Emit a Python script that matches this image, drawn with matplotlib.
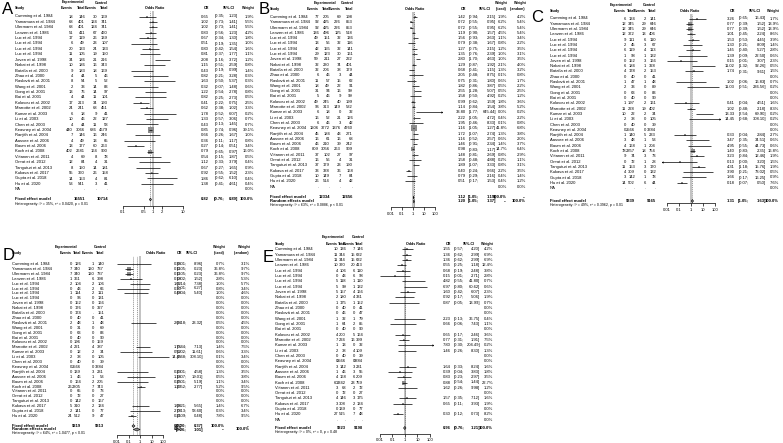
import matplotlib.pyplot as plt
from matplotlib.ticker import NullLocator
from matplotlib.transforms import blended_transform_factory

FIG_W, FIG_H = 783, 443
TXT = 3.0
TXT_HEAD = 2.6
plt.rcParams["font.family"] = ["Liberation Sans", "DejaVu Sans"]

STUDIES = [
    "Cumming et al. 1984", "Yamamura et al. 1984", "Ulermann et al. 1984", "Lenzen et al. 1986",
    "Luc et al. 1994", "Luc et al. 1994", "Luc et al. 1994", "Luc et al. 1994",
    "Joven et al. 1998", "Nakai et al. 1998", "Batalla et al. 2000", "Zhao et al. 2000",
    "Raslová et al. 2001", "Wang et al. 2001", "Gong et al. 2001", "Bai et al. 2001",
    "Kolovou et al. 2002", "Marrotte et al. 2002", "Kumar et al. 2003", "Li et al. 2003",
    "Chen et al. 2003", "Keavney et al. 2004", "Ranjith et al. 2004", "Aasvee et al. 2006",
    "Baum et al. 2006", "Koch et al. 2008", "Viitanen et al. 2011", "Onrat et al. 2012",
    "Tanguturi et al. 2013", "Kukava et al. 2017", "Gupta et al. 2018", "Hu et al. 2020",
]
TICKS_A = [0.1, 0.5, 1, 2, 10]
TICK_LABELS_A = ["0.1", "0.5", "1", "2", "10"]
TICKS_WIDE = [0.01, 0.1, 1, 10, 100]
TICK_LABELS_WIDE = ["0.01", "0.1", "1", "10", "100"]

# ---- panel A
A_EXP_EV = [18, 68, 68, 51, 17, 6, 20, 11, 34, 10, 9, 4, 8, 2, 13, 4, 17, 24, 6, 10, 4, 440, 7, 4, 13, 402, 4, 12, 8, 55, 14, 53]
A_EXP_N = [146, 401, 401, 411, 119, 49, 133, 105, 186, 186, 183, 44, 54, 33, 76, 44, 213, 241, 18, 46, 44, 3066, 146, 49, 177, 2681, 69, 84, 150, 360, 153, 541]
A_CTL_EV = [30, 124, 124, 67, 26, 23, 24, 19, 21, 16, 18, 5, 5, 14, 14, 11, 34, 68, 9, 22, 11, 686, 16, 13, 60, 164, 8, 4, 14, 26, 4, 3]
A_CTL_N = [169, 741, 741, 460, 139, 107, 133, 150, 216, 343, 169, 46, 52, 83, 97, 101, 193, 451, 41, 127, 58, 4679, 246, 65, 263, 900, 78, 31, 181, 158, 81, 41]
A_OR = [0.65, 1.02, 1.02, 0.83, 0.67, 0.51, 0.80, 0.81, 2.08, 1.15, 0.43, 0.82, 1.63, 0.32, 1.22, 0.82, 0.41, 0.62, 1.78, 1.33, 0.43, 0.85, 0.66, 0.36, 0.27, 0.79, 0.54, 1.12, 0.67, 0.92, 1.86, 1.38]
A_LO = [0.35, 0.73, 0.73, 0.56, 0.34, 0.19, 0.42, 0.37, 1.16, 0.51, 0.19, 0.21, 0.50, 0.07, 0.54, 0.25, 0.22, 0.38, 0.52, 0.57, 0.13, 0.74, 0.26, 0.11, 0.14, 0.65, 0.15, 0.33, 0.27, 0.55, 0.62, 0.41]
A_HI = [1.23, 1.41, 1.41, 1.23, 1.30, 1.35, 1.54, 1.77, 3.72, 2.59, 0.99, 3.28, 5.37, 1.48, 2.78, 2.73, 0.75, 1.02, 6.07, 3.06, 1.45, 0.96, 1.67, 1.17, 0.51, 0.97, 1.87, 3.79, 1.65, 1.52, 6.10, 4.61]
A_W = [1.9, 5.5, 5.5, 4.2, 1.8, 1.0, 1.6, 1.1, 1.2, 0.8, 1.4, 0.3, 0.3, 0.6, 0.8, 0.5, 2.5, 3.3, 0.2, 0.7, 0.7, 39.1, 1.0, 0.8, 3.4, 16.0, 0.5, 0.4, 0.9, 2.3, 0.4, 0.4]
A_TOTALS = [16551, 10714]
A_FIXED = [0.82, 0.76, 0.89]
A_HET = "Heterogeneity: I² = 35%, τ² = 0.0420, p = 0.01"

# ---- panel B
B_EXP_EV = [77, 92, 92, 136, 49, 13, 42, 29, 59, 32, 32, 6, 11, 18, 31, 5, 49, 96, 6, 16, 6, 1206, 45, 16, 46, 809, 37, 16, 37, 33, 10, 26]
B_EXP_N = [205, 425, 425, 496, 151, 56, 155, 123, 211, 230, 206, 46, 57, 49, 94, 46, 245, 313, 18, 52, 46, 3772, 184, 61, 210, 3056, 102, 56, 179, 338, 149, 514]
B_CTL_EV = [69, 226, 226, 125, 32, 32, 32, 30, 27, 74, 38, 3, 15, 22, 16, 9, 40, 149, 0, 21, 3, 1376, 43, 16, 39, 263, 27, 4, 23, 36, 7, 4]
B_CTL_N = [198, 853, 853, 518, 136, 116, 141, 161, 222, 401, 179, 44, 62, 91, 99, 99, 199, 532, 32, 126, 42, 4760, 271, 68, 242, 909, 97, 31, 190, 168, 84, 42]
B_OR = [1.42, 0.72, 0.72, 1.19, 1.56, 0.79, 1.27, 1.35, 2.80, 1.29, 0.68, 2.05, 0.75, 1.82, 2.55, 1.58, 0.99, 1.14, 33.80, 2.22, 1.95, 1.16, 1.72, 1.16, 1.46, 0.98, 1.48, 1.58, 1.89, 0.40, 0.79, 0.51]
B_LO = [0.94, 0.55, 0.55, 0.90, 0.93, 0.38, 0.75, 0.76, 1.70, 0.87, 0.41, 0.48, 0.31, 0.86, 1.28, 0.50, 0.62, 0.84, 1.77, 1.05, 0.46, 1.05, 1.07, 0.52, 0.91, 0.83, 0.81, 0.48, 1.07, 0.24, 0.29, 0.17]
B_HI = [2.15, 0.95, 0.95, 1.57, 2.63, 1.67, 2.15, 2.39, 4.63, 1.92, 1.15, 8.75, 1.80, 3.87, 5.07, 4.92, 1.59, 1.54, 645.44, 4.72, 8.33, 1.27, 2.74, 2.57, 2.34, 1.17, 2.69, 4.88, 3.33, 0.66, 2.16, 1.53]
B_WF = [1.9, 6.2, 6.2, 4.5, 1.1, 0.8, 1.2, 1.0, 1.0, 2.1, 1.3, 0.1, 0.6, 0.5, 0.5, 0.2, 1.8, 3.8, 0.0, 0.4, 0.1, 41.8, 1.3, 0.6, 1.4, 14.7, 0.8, 0.2, 0.8, 2.2, 0.4, 0.4]
B_WR = [4.2, 5.4, 5.4, 5.4, 3.4, 2.2, 3.5, 3.1, 3.5, 4.0, 3.2, 0.8, 1.7, 2.2, 2.5, 1.2, 3.6, 5.2, 0.2, 2.2, 0.8, 6.8, 3.8, 2.0, 3.7, 6.4, 2.9, 1.1, 3.1, 3.5, 1.4, 1.2]
B_TOTALS = [12334, 12656]
B_FIXED = [1.12, 1.05, 1.19]
B_RANDOM = [1.20, 1.05, 1.37]
B_HET = "Heterogeneity: I² = 63%, τ² = 0.0886, p < 0.01"

# ---- panel C
C_EXP_EV = [6, 12, 12, 12, 9, 2, 6, 1, 0, 6, 4, 0, 1, 2, 0, 0, 1, 11, 10, 2, 0, 0, 1, 3, 4, 78, 9, 0, 11, 4, 3, 14]
C_EXP_N = [134, 345, 345, 372, 111, 45, 119, 98, 152, 184, 178, 40, 47, 33, 63, 40, 197, 228, 22, 38, 40, 2566, 140, 48, 168, 2357, 74, 72, 153, 309, 142, 502]
C_CTL_EV = [2, 29, 29, 13, 6, 3, 4, 1, 3, 1, 2, 0, 1, 0, 0, 0, 2, 19, 2, 0, 0, 0, 5, 1, 1, 18, 3, 1, 3, 0, 1, 6]
C_CTL_N = [141, 646, 646, 406, 110, 67, 113, 132, 166, 328, 153, 41, 48, 89, 83, 90, 161, 402, 34, 105, 39, 3384, 233, 53, 204, 754, 73, 28, 170, 132, 78, 44]
C_OR = [3.26, 0.77, 0.77, 1.01, 1.53, 1.30, 1.45, 1.39, 0.15, 11.02, 1.74, None, 1.02, 11.03, None, None, 0.41, 1.02, 13.33, 14.45, None, None, 0.33, 3.47, 4.95, 1.40, 3.23, 0.13, 4.31, 3.90, 1.66, 0.18]
C_LO = [0.65, 0.39, 0.39, 0.45, 0.53, 0.21, 0.40, 0.09, 0.01, 1.32, 0.31, None, 0.06, 0.51, None, None, 0.04, 0.48, 2.54, 0.68, None, None, 0.04, 0.35, 0.55, 0.83, 0.84, 0.00, 1.18, 0.21, 0.17, 0.07]
C_HI = [16.43, 1.52, 1.52, 2.24, 4.45, 8.09, 5.27, 22.50, 3.07, 92.26, 9.61, None, 16.83, 236.56, None, None, 4.51, 2.18, 69.90, 308.10, None, None, 2.84, 34.51, 44.73, 2.35, 12.46, 3.20, 15.76, 73.02, 16.25, 0.50]
C_W = [1.7, 13.9, 13.9, 8.6, 3.9, 1.4, 2.8, 0.6, 2.3, 0.5, 1.5, 0.0, 0.7, 0.2, 0.0, 0.0, 1.6, 8.3, 0.2, 0.2, 0.0, 0.0, 2.7, 0.6, 0.6, 16.8, 1.9, 1.5, 1.9, 0.5, 0.9, 7.6]
C_TOTALS = [9339, 9165]
C_FIXED = [1.31, 1.05, 1.63]
C_HET = "Heterogeneity: I² = 49%, τ² = 0.3962, p = 0.01"

# ---- panel D
D_EXP_EV = [0, 7, 7, 1, 2, 0, 1, 0, 0, 0, 0, 0, 2, 0, 0, 0, 0, 4, 0, 2, 0, 0, 0, 1, 0, 26, 0, 0, 0, 5, 2, 24]
D_EXP_N = [126, 340, 340, 361, 104, 43, 114, 96, 152, 176, 174, 40, 48, 31, 63, 40, 196, 221, 12, 38, 40, 2566, 139, 46, 164, 2305, 65, 72, 142, 310, 141, 512]
D_CTL_EV = [1, 120, 120, 6, 2, 2, 2, 0, 0, 0, None, 0, 1, 0, 0, 0, 0, 4, 2, 0, 0, 0, 3, 1, 2, 7, 0, 0, 0, 2, 0, 9]
D_CTL_N = [140, 737, 737, 398, 106, 66, 111, 131, 166, 327, 151, 41, 48, 69, 83, 90, 159, 387, 34, 105, 39, 3384, 231, 53, 205, 743, 73, 27, 167, 134, 77, 47]
D_OR = [0.36, 0.11, 0.11, 0.18, 1.02, 0.30, 0.48, None, None, None, None, None, 2.04, None, None, None, None, 1.76, 0.52, 14.45, None, None, 0.23, 1.16, 0.25, 1.20, None, None, None, 1.08, 2.78, 0.21]
D_LO = [0.01, 0.05, 0.05, 0.02, 0.14, 0.01, 0.04, None, None, None, None, None, 0.18, None, None, None, None, 0.44, 0.02, 0.68, None, None, 0.01, 0.07, 0.01, 0.52, None, None, None, 0.21, 0.13, 0.09]
D_HI = [8.96, 0.23, 0.23, 1.52, 7.38, 6.27, 5.40, None, None, None, None, None, 23.32, None, None, None, None, 7.13, 11.61, 308.10, None, None, 4.58, 19.01, 5.19, 2.77, None, None, None, 5.65, 58.60, 0.48]
D_WF = [0.7, 36.8, 36.8, 2.8, 1.0, 0.8, 1.0, 0.0, 0.0, 0.0, 0.0, 0.0, 0.5, 0.0, 0.0, 0.0, 0.0, 1.4, 0.6, 0.1, 0.0, 0.0, 1.3, 0.5, 1.1, 5.2, 0.0, 0.0, 0.0, 1.4, 0.3, 7.8]
D_WR = [3.1, 9.7, 9.7, 5.3, 5.7, 3.4, 4.6, 0.0, 0.0, 0.0, 0.0, 0.0, 4.5, 0.0, 0.0, 0.0, 0.0, 7.5, 3.3, 3.4, 0.0, 0.0, 3.5, 3.8, 3.4, 9.5, 0.0, 0.0, 0.0, 6.7, 3.4, 9.5]
D_TOTALS = [9219, 9313]
D_FIXED = [0.27, 0.20, 0.37]
D_RANDOM = [0.52, 0.26, 1.01]
D_HET = "Heterogeneity: I² = 64%, τ² = 1.0477, p < 0.01"

# ---- panel E
E_EXP_EV = [10, 11, 11, 10, 4, 0, 5, 5, 5, 2, 1, 0, 0, 1, 1, 0, 4, 7, 1, 2, 0, 0, 3, 1, 4, 60, 3, 0, 4, 3, 0, 27]
E_EXP_N = [136, 344, 344, 370, 106, 43, 118, 99, 157, 180, 175, 40, 46, 32, 64, 40, 200, 224, 13, 38, 40, 2566, 142, 46, 168, 2342, 68, 72, 146, 308, 139, 515]
E_CTL_EV = [7, 15, 15, 20, 6, 6, 1, 1, 4, 4, 1, 0, 0, 1, 2, 0, 5, 16, 0, 4, 0, 0, 3, 3, 6, 23, 2, 0, 3, 2, 0, 7]
E_CTL_N = [146, 632, 632, 413, 110, 98, 110, 132, 166, 331, 152, 41, 47, 79, 85, 90, 164, 399, 32, 109, 39, 3384, 231, 55, 209, 759, 72, 27, 175, 134, 77, 48]
E_OR = [1.55, 1.36, 1.36, 0.55, 0.68, 0.15, 4.82, 6.97, 1.60, 0.92, 0.87, None, None, 2.23, 0.66, None, 0.65, 0.77, 7.80, 1.46, None, None, 1.64, 0.39, 0.83, 0.88, 1.62, None, 1.57, 0.65, None, 0.30]
E_LO = [0.57, 0.62, 0.62, 0.25, 0.19, 0.01, 0.55, 0.80, 0.42, 0.17, 0.05, None, None, 0.13, 0.06, None, 0.17, 0.31, 0.30, 0.26, None, None, 0.33, 0.04, 0.23, 0.54, 0.26, None, 0.35, 0.11, None, 0.12]
E_HI = [4.20, 2.99, 2.99, 1.18, 2.48, 2.71, 41.80, 60.62, 6.07, 5.06, 13.99, None, None, 36.75, 7.43, None, 2.46, 1.91, 204.49, 8.30, None, None, 8.24, 3.83, 2.97, 1.44, 9.98, None, 7.12, 3.93, None, 0.73]
E_W = [4.2, 6.9, 6.9, 12.4, 3.8, 2.8, 0.7, 0.6, 2.3, 1.9, 0.7, 0.0, 0.0, 0.4, 1.1, 0.0, 3.6, 7.5, 0.2, 1.3, 0.0, 0.0, 1.6, 1.8, 3.5, 22.7, 1.2, 0.0, 1.6, 1.9, 0.0, 8.2]
E_TOTALS = [9323, 9198]
E_FIXED = [0.96, 0.76, 1.21]
E_HET = "Heterogeneity: I² = 0%, τ² = 0, p = 0.48"


# Pixel layout of each panel (positions only, no data)
LAYOUT = {
    "A": dict(label=(2, 10), y_top=2.5, y_head=8, y0=16.5, dy=5.4, y_fixed=199.5, y_random=None,
              y_het=204.5, y_axis=205.5, x_name=15, x_cols=(73, 85, 97, 108), x_exp=73, x_ctl=101,
              x_one=153, ppd=30, x_left=116, x_right=190, x_hdr_or=155, x_or=209, x_ci=238, ci_gap=13,
              x_w=(254,), na_row=True),
    "B": dict(label=(259, 10), y_top=3, y_head=9, y0=17, dy=5.3, y_fixed=197.5, y_random=201.5,
              y_het=205.5, y_axis=207, x_name=270, x_cols=(319, 330, 341, 353), x_exp=325, x_ctl=347,
              x_one=413, ppd=11, x_left=386, x_right=442, x_hdr_or=415, x_or=466, x_ci=496, ci_gap=17,
              x_w=(507, 526), na_row=True),
    "C": dict(label=(531, 17), y_top=5, y_head=11, y0=18.5, dy=5.3, y_fixed=201, y_random=None,
              y_het=205.5, y_axis=203.5, x_name=550, x_cols=(626, 635, 646, 656), x_exp=621, x_ctl=649,
              x_one=691, ppd=12, x_left=662, x_right=720, x_hdr_or=690, x_or=735, x_ci=766, ci_gap=17,
              x_w=(779,), na_row=True),
    "D": dict(label=(3, 255), y_top=247, y_head=253, y0=264, dy=4.9, y_fixed=426, y_random=429.5,
              y_het=433, y_axis=435, x_name=12, x_cols=(72, 81, 94, 104), x_exp=66, x_ctl=100,
              x_one=140, ppd=11.5, x_left=114, x_right=172, x_hdr_or=156, x_or=182, x_ci=203, ci_gap=16,
              x_w=(225, 250), na_row=False),
    "E": dict(label=(263, 258), y_top=237.5, y_head=244, y0=249.5, dy=5.32, y_fixed=428, y_random=None,
              y_het=432, y_axis=433.5, x_name=275, x_cols=(338, 346, 355, 363), x_exp=333, x_ctl=358,
              x_one=405, ppd=12.5, x_left=376, x_right=433, x_hdr_or=416, x_or=451, x_ci=480, ci_gap=16,
              x_w=(493,), na_row=True),
}


def build_panels():
    return {
        "A": dict(counts=[A_EXP_EV, A_EXP_N, A_CTL_EV, A_CTL_N], est=[A_OR, A_LO, A_HI], weights=[A_W],
                  totals=A_TOTALS, fixed=A_FIXED, random=None, het=A_HET, ticks=(TICKS_A, TICK_LABELS_A)),
        "B": dict(counts=[B_EXP_EV, B_EXP_N, B_CTL_EV, B_CTL_N], est=[B_OR, B_LO, B_HI], weights=[B_WF, B_WR],
                  totals=B_TOTALS, fixed=B_FIXED, random=B_RANDOM, het=B_HET, ticks=(TICKS_WIDE, TICK_LABELS_WIDE)),
        "C": dict(counts=[C_EXP_EV, C_EXP_N, C_CTL_EV, C_CTL_N], est=[C_OR, C_LO, C_HI], weights=[C_W],
                  totals=C_TOTALS, fixed=C_FIXED, random=None, het=C_HET, ticks=(TICKS_WIDE, TICK_LABELS_WIDE)),
        "D": dict(counts=[D_EXP_EV, D_EXP_N, D_CTL_EV, D_CTL_N], est=[D_OR, D_LO, D_HI], weights=[D_WF, D_WR],
                  totals=D_TOTALS, fixed=D_FIXED, random=D_RANDOM, het=D_HET, ticks=(TICKS_WIDE, TICK_LABELS_WIDE)),
        "E": dict(counts=[E_EXP_EV, E_EXP_N, E_CTL_EV, E_CTL_N], est=[E_OR, E_LO, E_HI], weights=[E_W],
                  totals=E_TOTALS, fixed=E_FIXED, random=None, het=E_HET, ticks=(TICKS_WIDE, TICK_LABELS_WIDE)),
    }


def draw_panel(fig, key, data, lay):
    y_forest_top = lay["y_head"] + 3

    def row(y_px):
        return (y_px - lay["y0"]) / lay["dy"]

    ax = fig.add_axes([
        lay["x_left"] / FIG_W,
        1 - lay["y_axis"] / FIG_H,
        (lay["x_right"] - lay["x_left"]) / FIG_W,
        (lay["y_axis"] - y_forest_top) / FIG_H,
    ])
    ax.set_xscale("log")
    xmin = 10 ** ((lay["x_left"] - lay["x_one"]) / lay["ppd"])
    xmax = 10 ** ((lay["x_right"] - lay["x_one"]) / lay["ppd"])
    ax.set_xlim(xmin, xmax)
    ax.set_ylim(row(lay["y_axis"]), row(y_forest_top))
    ax.patch.set_visible(False)
    for side in ("top", "left", "right"):
        ax.spines[side].set_visible(False)
    ticks, tick_labels = data["ticks"]
    ax.spines["bottom"].set_bounds(ticks[0], ticks[-1])
    ax.spines["bottom"].set_linewidth(0.5)
    ax.set_xticks(ticks)
    ax.set_xticklabels(tick_labels)
    ax.xaxis.set_minor_locator(NullLocator())
    ax.tick_params(axis="x", length=2, width=0.5, labelsize=TXT, pad=1.5)
    ax.set_yticks([])

    tr = blended_transform_factory(fig.transFigure, ax.transData)

    def put(x_px, r, s, ha="right", bold=False, size=TXT):
        fig.text(x_px / FIG_W, r, s, transform=tr, ha=ha, va="center", fontsize=size,
                 fontweight="bold" if bold else "normal", zorder=5)

    def put_ci(r, lo, hi, bold=False):
        put(lay["x_ci"] - lay["ci_gap"], r, f"[{lo:.2f};", bold=bold)
        put(lay["x_ci"], r, f"{hi:.2f}]", bold=bold)

    # letter + headers
    lx, ly = lay["label"]
    fig.text(lx / FIG_W, 1 - ly / FIG_H, key, fontsize=12, ha="left", va="center", zorder=6)
    r_top, r_head = row(lay["y_top"]), row(lay["y_head"])
    put(lay["x_name"], r_head, "Study", ha="left", bold=True, size=TXT_HEAD)
    put(lay["x_exp"], r_top, "Experimental", ha="center", bold=True, size=TXT_HEAD)
    put(lay["x_ctl"], r_top, "Control", ha="center", bold=True, size=TXT_HEAD)
    for x, name in zip(lay["x_cols"], ["Events", "Total", "Events", "Total"]):
        put(x, r_head, name, bold=True, size=TXT_HEAD)
    put(lay["x_hdr_or"], r_head, "Odds Ratio", ha="center", bold=True, size=TXT_HEAD)
    put(lay["x_or"], r_head, "OR", bold=True, size=TXT_HEAD)
    put(lay["x_ci"] - lay["ci_gap"] / 2 - 3, r_head, "95%-CI", ha="center", bold=True, size=TXT_HEAD)
    if len(lay["x_w"]) == 1:
        put(lay["x_w"][0], r_head, "Weight", bold=True, size=TXT_HEAD)
    else:
        put(lay["x_w"][0], r_top, "Weight", bold=True, size=TXT_HEAD)
        put(lay["x_w"][0], r_head, "(fixed)", bold=True, size=TXT_HEAD)
        put(lay["x_w"][1], r_top, "Weight", bold=True, size=TXT_HEAD)
        put(lay["x_w"][1], r_head, "(random)", bold=True, size=TXT_HEAD)

    # reference lines
    ax.axvline(1, color="#bdbdbd", lw=1.3, zorder=0)
    ax.axvline(data["fixed"][0], color="#555555", lw=0.4, ls=(0, (2, 1.5)), zorder=1)
    if data["random"] is not None:
        ax.axvline(data["random"][0], color="#555555", lw=0.4, ls=(0, (2, 1.5)), zorder=1)

    ors, los, his = data["est"]
    box_w = data["weights"][0]
    for i, name in enumerate(STUDIES):
        put(lay["x_name"], i, name, ha="left")
        for x, col in zip(lay["x_cols"], data["counts"]):
            put(x, i, "." if col[i] is None else str(col[i]))
        for x, col in zip(lay["x_w"], data["weights"]):
            put(x, i, f"{col[i]:.1f}%")
        o = ors[i]
        if o is None:
            continue
        put(lay["x_or"], i, f"{o:.2f}")
        put_ci(i, los[i], his[i])
        a, b = max(los[i], xmin), min(his[i], xmax)
        ax.plot([a, b], [i, i], color="black", lw=0.5, zorder=3, solid_capstyle="butt")
        if los[i] < xmin:
            ax.plot([a], [i], marker="<", ms=1.6, color="black", mew=0, zorder=3)
        if his[i] > xmax:
            ax.plot([b], [i], marker=">", ms=1.6, color="black", mew=0, zorder=3)
        ax.scatter([o], [i], marker="s", s=max(box_w[i] * 0.35, 0.5), color="#8c8c8c",
                   linewidths=0, zorder=2)

    if lay["na_row"]:
        r_na = len(STUDIES)
        put(lay["x_name"], r_na, "NA", ha="left")
        for x in lay["x_cols"]:
            put(x, r_na, ".")
        for x in lay["x_w"]:
            put(x, r_na, "0.0%")

    def diamond(est, r):
        o, lo, hi = est
        h = 1.5 / lay["dy"]
        ax.fill([lo, o, hi, o], [r, r - h, r, r + h], facecolor="#8c8c8c", edgecolor="black",
                lw=0.4, zorder=4)

    r_fixed = row(lay["y_fixed"])
    put(lay["x_name"], r_fixed, "Fixed effect model", ha="left", bold=True)
    put(lay["x_cols"][1], r_fixed, str(data["totals"][0]), bold=True)
    put(lay["x_cols"][3], r_fixed, str(data["totals"][1]), bold=True)
    put(lay["x_or"], r_fixed, f"{data['fixed'][0]:.2f}", bold=True)
    put_ci(r_fixed, data["fixed"][1], data["fixed"][2], bold=True)
    put(lay["x_w"][0], r_fixed, "100.0%", bold=True)
    if len(lay["x_w"]) > 1:
        put(lay["x_w"][1], r_fixed, "--", bold=True)
    diamond(data["fixed"], r_fixed)

    if data["random"] is not None:
        r_rand = row(lay["y_random"])
        put(lay["x_name"], r_rand, "Random effects model", ha="left", bold=True)
        put(lay["x_or"], r_rand, f"{data['random'][0]:.2f}", bold=True)
        put_ci(r_rand, data["random"][1], data["random"][2], bold=True)
        put(lay["x_w"][0], r_rand, "--", bold=True)
        put(lay["x_w"][1], r_rand, "100.0%", bold=True)
        diamond(data["random"], r_rand)

    put(lay["x_name"], row(lay["y_het"]), data["het"], ha="left", size=TXT_HEAD)


def main():
    fig = plt.figure(figsize=(FIG_W / 100, FIG_H / 100), dpi=100)
    fig.patch.set_facecolor("white")
    panels = build_panels()
    for key in ["A", "B", "C", "D", "E"]:
        draw_panel(fig, key, panels[key], LAYOUT[key])
    fig.savefig("out.png", dpi=100)
    plt.close(fig)


if __name__ == "__main__":
    main()
